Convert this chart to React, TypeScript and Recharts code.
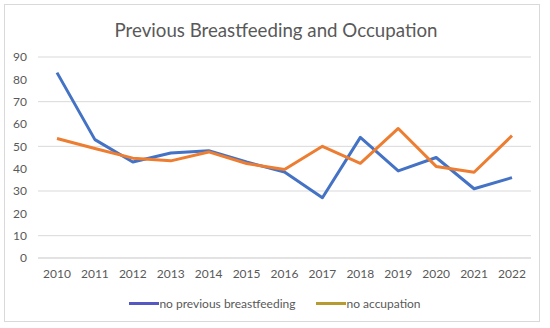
import { LineChart, Line, XAxis, YAxis, CartesianGrid, Legend } from 'recharts';

const years = ['2010', '2011', '2012', '2013', '2014', '2015', '2016', '2017', '2018', '2019', '2020', '2021', '2022'];
const noPreviousBreastfeeding = [83, 53, 43, 47, 48, 43, 38.5, 27, 54, 39, 45, 31, 36];
const noOccupation = [53.5, 49, 44.7, 43.5, 47.5, 42.3, 39.6, 50, 42.4, 58, 41, 38.4, 54.8];
const yTicks = [0, 10, 20, 30, 40, 50, 60, 70, 80, 90];

const data = years.map((year, i) => ({
  year,
  breastfeeding: noPreviousBreastfeeding[i],
  occupation: noOccupation[i],
}));

const legendItems = [
  { label: 'no previous breastfeeding', color: '#5558C2' },
  { label: 'no accupation', color: '#B59B30' },
];

const FONT = 'Lato, "Open Sans", sans-serif';

const LegendContent = () => (
  <div style={{ display: 'flex', justifyContent: 'center', alignItems: 'center', fontFamily: FONT, fontSize: 12, color: '#595959' }}>
    {legendItems.map((item, i) => (
      <div key={item.label} style={{ display: 'flex', alignItems: 'center', marginLeft: i === 0 ? 0 : 21 }}>
        <span style={{ display: 'inline-block', width: 30, height: 3, background: item.color }} />
        <span>{item.label}</span>
      </div>
    ))}
  </div>
);

export default function App() {
  return (
    <div style={{ position: 'absolute', left: 0, top: 0, width: 550, height: 328, background: '#fff' }}>
      <div
        style={{
          position: 'absolute',
          left: 4,
          top: 4,
          width: 536,
          height: 318,
          border: '1px solid #d9d9d9',
          boxSizing: 'border-box',
        }}
      />
      <div
        style={{
          position: 'absolute',
          left: 0,
          top: 18,
          width: 552,
          textAlign: 'center',
          fontFamily: FONT,
          fontSize: 18.7,
          color: '#595959',
          lineHeight: '24px',
        }}
      >
        Previous Breastfeeding and Occupation
      </div>
      <LineChart width={550} height={328} data={data} margin={{ top: 57, right: 19, left: 0, bottom: 40 }}>
        <CartesianGrid vertical={false} stroke="#d9d9d9" />
        <XAxis
          dataKey="year"
          padding={{ left: 19, right: 19 }}
          axisLine={{ stroke: '#d9d9d9' }}
          tickLine={false}
          tickSize={9}
          tickMargin={2}
          height={30}
          interval={0}
          tick={{ fontSize: 12, fill: '#595959', fontFamily: FONT }}
        />
        <YAxis
          domain={[0, 90]}
          ticks={yTicks}
          width={38}
          axisLine={false}
          tickLine={false}
          tickSize={9}
          tickMargin={2}
          tick={{ fontSize: 12, fill: '#595959', fontFamily: FONT }}
        />
        <Legend verticalAlign="middle" content={<LegendContent />} wrapperStyle={{ top: 296, left: 0, width: 550 }} />
        <Line
          dataKey="breastfeeding"
          stroke="#4472C4"
          strokeWidth={3}
          dot={false}
          strokeLinejoin="round"
          isAnimationActive={false}
        />
        <Line
          dataKey="occupation"
          stroke="#ED7D31"
          strokeWidth={3}
          dot={false}
          strokeLinejoin="round"
          isAnimationActive={false}
        />
      </LineChart>
    </div>
  );
}
